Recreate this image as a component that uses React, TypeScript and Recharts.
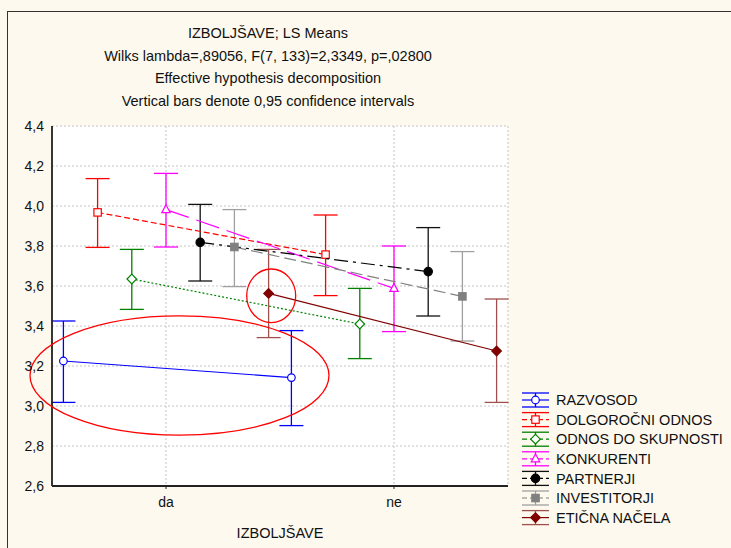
import React from 'react';
import {
  ComposedChart,
  Scatter,
  XAxis,
  YAxis,
  CartesianGrid,
  ErrorBar,
  ReferenceDot,
  Legend,
} from 'recharts';

// ---------- data ----------
const categories = ['da', 'ne'];
const seriesNames = [
  'RAZVOSOD',
  'DOLGOROČNI ODNOS',
  'ODNOS DO SKUPNOSTI',
  'KONKURENTI',
  'PARTNERJI',
  'INVESTITORJI',
  'ETIČNA NAČELA',
];
const meanDa = [3.225, 3.968, 3.635, 3.982, 3.818, 3.795, 3.563];
const meanNe = [3.142, 3.757, 3.41, 3.588, 3.672, 3.548, 3.275];
const lowDa = [3.018, 3.793, 3.483, 3.795, 3.625, 3.597, 3.342];
const highDa = [3.425, 4.137, 3.783, 4.163, 4.008, 3.982, 3.783];
const lowNe = [2.902, 3.552, 3.237, 3.372, 3.45, 3.325, 3.018];
const highNe = [3.377, 3.955, 3.588, 3.8, 3.892, 3.772, 3.535];
const yTicks = [2.6, 2.8, 3.0, 3.2, 3.4, 3.6, 3.8, 4.0, 4.2, 4.4];
const titleLines = [
  'IZBOLJŠAVE; LS Means',
  'Wilks lambda=,89056, F(7, 133)=2,3349, p=,02800',
  'Effective hypothesis decomposition',
  'Vertical bars denote 0,95 confidence intervals',
];
const xAxisTitle = 'IZBOLJŠAVE';

// ---------- layout / style ----------
const W = 731;
const H = 548;
const SERIES_SPACING = 0.15;
const FONT = "'Liberation Sans', Arial, sans-serif";

type Kind = 'circle' | 'square' | 'diamond' | 'triangle';
const seriesStyles: { color: string; bar: string; dash?: string; kind: Kind; filled: boolean; lw: number }[] = [
  { color: '#0000ff', bar: '#0000ff', kind: 'circle', filled: false, lw: 1.2 },
  { color: '#ff0000', bar: '#ff0000', dash: '6 3', kind: 'square', filled: false, lw: 1.2 },
  { color: '#008000', bar: '#008000', dash: '2 2', kind: 'diamond', filled: false, lw: 1.2 },
  { color: '#ff00ff', bar: '#ff00ff', dash: '24 8', kind: 'triangle', filled: false, lw: 1.2 },
  { color: '#000000', bar: '#111111', dash: '14 5 3 5', kind: 'circle', filled: true, lw: 1.2 },
  { color: '#808080', bar: '#a0a0a0', dash: '12 5', kind: 'square', filled: true, lw: 1.2 },
  { color: '#800000', bar: '#a0504c', kind: 'diamond', filled: true, lw: 1.2 },
];

function renderMarker(kind: Kind, cx: number, cy: number, color: string, filled: boolean, key?: string) {
  const fill = filled ? color : '#ffffff';
  const sw = 1.2;
  switch (kind) {
    case 'circle':
      return <circle key={key} cx={cx} cy={cy} r={filled ? 4.2 : 3.8} fill={fill} stroke={color} strokeWidth={sw} />;
    case 'square':
      return <rect key={key} x={cx - 3.7} y={cy - 3.7} width={7.4} height={7.4} fill={fill} stroke={color} strokeWidth={sw} />;
    case 'diamond':
      return (
        <polygon
          key={key}
          points={`${cx},${cy - 4.8} ${cx + 4.8},${cy} ${cx},${cy + 4.8} ${cx - 4.8},${cy}`}
          fill={fill}
          stroke={color}
          strokeWidth={sw}
        />
      );
    case 'triangle':
    default:
      return (
        <polygon
          key={key}
          points={`${cx},${cy - 4.8} ${cx + 4.2},${cy + 3} ${cx - 4.2},${cy + 3}`}
          fill={fill}
          stroke={color}
          strokeWidth={sw}
        />
      );
  }
}

const renderLegend = () => (
  <svg width={216} height={140} style={{ overflow: 'visible' }}>
    {seriesNames.map((name, i) => {
      const s = seriesStyles[i];
      const cy = 10 + i * 19.6;
      return (
        <g key={name}>
          <line x1={7} x2={34} y1={cy - 7} y2={cy - 7} stroke={s.bar} strokeWidth={1.3} />
          <line x1={7} x2={34} y1={cy + 7} y2={cy + 7} stroke={s.bar} strokeWidth={1.3} />
          <line x1={20.5} x2={20.5} y1={cy - 7} y2={cy + 7} stroke={s.bar} strokeWidth={1.3} />
          <line x1={7} x2={34} y1={cy} y2={cy} stroke={s.color} strokeWidth={1.2} strokeDasharray={s.dash ? '5 3' : undefined} />
          {renderMarker(s.kind, 20.5, cy, s.color, s.filled)}
          <text x={41} y={cy + 5.2} fontSize={14.5} fill="#111" fontFamily={FONT}>
            {name}
          </text>
        </g>
      );
    })}
  </svg>
);

export default function App() {
  const seriesData = seriesNames.map((_, i) =>
    categories.map((_c, j) => {
      const mean = j === 0 ? meanDa[i] : meanNe[i];
      const low = j === 0 ? lowDa[i] : lowNe[i];
      const high = j === 0 ? highDa[i] : highNe[i];
      return { x: j + 0.5 + (i - 3) * SERIES_SPACING, y: mean, err: [mean - low, high - mean] };
    })
  );

  return (
    <div
      style={{
        position: 'absolute',
        left: 0,
        top: 0,
        width: W,
        height: H,
        background: '#fdf9ee',
        overflow: 'hidden',
        fontFamily: FONT,
      }}
    >
      <div
        style={{
          position: 'absolute',
          left: 7,
          top: 11,
          width: W,
          height: H,
          borderTop: '1.5px solid #333',
          borderLeft: '1.5px solid #333',
        }}
      />
      {titleLines.map((t, i) => (
        <div
          key={t}
          style={{
            position: 'absolute',
            left: 68,
            width: 400,
            top: 33 + i * 22.6 - 8,
            lineHeight: '16px',
            textAlign: 'center',
            fontSize: 14.5,
            color: '#111',
          }}
        >
          {t}
        </div>
      ))}
      <div
        style={{
          position: 'absolute',
          left: 180,
          width: 200,
          top: 533 - 8,
          lineHeight: '16px',
          textAlign: 'center',
          fontSize: 14.5,
          color: '#111',
        }}
      >
        {xAxisTitle}
      </div>
      <ComposedChart
        width={W}
        height={H}
        margin={{ top: 126, right: 223, bottom: 0, left: 0 }}
        style={{ position: 'absolute', left: 0, top: 0 }}
      >
        <CartesianGrid fill="#ffffff" stroke="#c4c4c4" strokeDasharray="2 2" />
        <XAxis
          type="number"
          dataKey="x"
          domain={[0, 2]}
          ticks={[0.5, 1.5]}
          tickFormatter={(v: number) => categories[Math.round(v - 0.5)] ?? ''}
          height={62}
          tickSize={3}
          tickMargin={8}
          axisLine={{ stroke: '#222', strokeWidth: 1.8 }}
          tickLine={{ stroke: '#222' }}
          tick={{ fontSize: 14, fill: '#111', fontFamily: FONT }}
          allowDataOverflow
        />
        <XAxis
          xAxisId="top"
          orientation="top"
          type="number"
          domain={[0, 2]}
          height={0}
          tick={false}
          tickLine={false}
          axisLine={{ stroke: '#111', strokeWidth: 1.5 }}
        />
        <YAxis
          type="number"
          dataKey="y"
          domain={[2.6, 4.4]}
          ticks={yTicks}
          tickFormatter={(v: number) => v.toFixed(1).replace('.', ',')}
          width={52}
          tickSize={6}
          tickMargin={2}
          tickLine={false}
          axisLine={{ stroke: '#222', strokeWidth: 1.8 }}
          tick={{ fontSize: 14, fill: '#111', fontFamily: FONT }}
          allowDataOverflow
        />
        <YAxis
          yAxisId="right"
          orientation="right"
          type="number"
          domain={[2.6, 4.4]}
          ticks={yTicks}
          width={0}
          mirror
          tickSize={3}
          tickFormatter={() => ''}
          tickLine={{ stroke: '#111' }}
          axisLine={{ stroke: '#111', strokeWidth: 1.5 }}
        />
        {seriesNames.map((name, i) => {
          const s = seriesStyles[i];
          return (
            <Scatter
              key={name}
              name={name}
              data={seriesData[i]}
              fill={s.color}
              isAnimationActive={false}
              line={{ stroke: s.color, strokeWidth: s.lw, strokeDasharray: s.dash }}
              lineType="joint"
              shape={(p: any) => renderMarker(s.kind, p.cx, p.cy, s.color, s.filled)}
            >
              <ErrorBar dataKey="err" direction="y" width={12} stroke={s.bar} strokeWidth={1.3} />
            </Scatter>
          );
        })}
        <ReferenceDot
          x={0.5592}
          y={3.1525}
          r={0}
          ifOverflow="visible"
          shape={(p: any) => (
            <ellipse cx={p.cx} cy={p.cy} rx={149.5} ry={59.7} fill="none" stroke="#ff0000" strokeWidth={1.3} />
          )}
        />
        <ReferenceDot
          x={0.9614}
          y={3.551}
          r={0}
          ifOverflow="visible"
          shape={(p: any) => (
            <ellipse cx={p.cx} cy={p.cy} rx={24.5} ry={26.8} fill="none" stroke="#ff0000" strokeWidth={1.3} />
          )}
        />
        <Legend
          layout="horizontal"
          verticalAlign="middle"
          align="center"
          content={renderLegend}
          wrapperStyle={{ position: 'absolute', left: 515, top: 390, width: 216, height: 140 }}
        />
      </ComposedChart>
    </div>
  );
}
